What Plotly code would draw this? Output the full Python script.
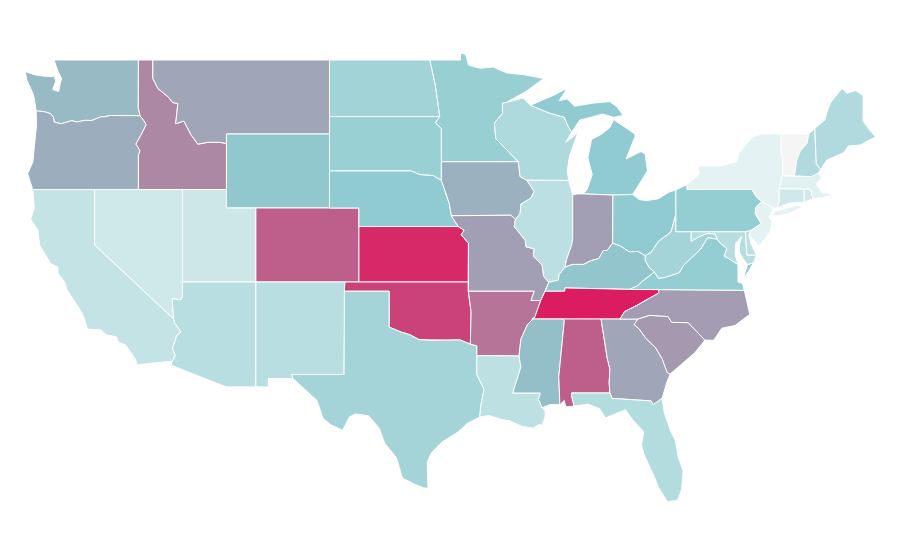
import plotly.graph_objects as go
from plotly.colors import sample_colorscale

# geo subplots need a topojson download that is not possible here,
# so the state shapes are simplified lon/lat outlines on plain axes
states = ["WA","OR","CA","ID","NV","MT","WY","UT","AZ","CO","NM","ND","SD","NE","KS","OK","TX",
          "MN","IA","MO","AR","LA","WI","IL","MI","IN","OH","KY","TN","MS","AL","GA","FL","SC","NC",
          "VA","WV","MD","DE","PA","NJ","NY","CT","RI","MA","VT","NH","ME"]
values = [46,50,20,63,15,53,41,16,24,77,24,33,36,40,96,87,32,
          37,49,55,70,22,28,23,40,55,40,42,100,44,77,53,26,57,56,
          38,32,25,22,38,7,7,15,15,8,0,27,27]

colorscale = [[0, "#f6f5f6"], [0.07, "#e4f2f3"], [0.4, "#8fcbd0"], [1, "#dc1c60"]]

outlines = {
"WA": [[(-122.76,49),(-117.03,49),(-117.04,46.43),(-116.92,45.99),(-118.98,46),(-119.3,45.93),(-119.6,45.92),(-120.2,45.73),(-120.65,45.74),(-121.2,45.65),(-121.55,45.72),(-122.3,45.55),(-122.76,45.65),(-122.8,45.9),(-123,46.1),(-123.4,46.2),(-123.98,46.25),(-124.05,46.7),(-124.1,46.9),(-124.2,47.2),(-124.6,47.9),(-124.73,48.38),(-124.1,48.2),(-123.5,48.13),(-122.9,48.1),(-122.75,48.15),(-122.65,47.85),(-122.85,47.4),(-122.45,47.3),(-122.35,47.7),(-122.25,48),(-122.5,48.4)]],
"OR": [[(-123.98,46.25),(-123.4,46.2),(-123,46.1),(-122.8,45.9),(-122.76,45.65),(-122.3,45.55),(-121.55,45.72),(-121.2,45.65),(-120.65,45.74),(-120.2,45.73),(-119.6,45.92),(-119.3,45.93),(-118.98,46),(-116.92,45.99),(-116.68,45.75),(-116.5,45.5),(-116.85,44.95),(-117.2,44.45),(-117.03,44.25),(-116.93,44.1),(-117.03,43.83),(-117.03,42),(-124.21,42),(-124.4,42.5),(-124.55,42.85),(-124.2,43.5),(-124.1,44.5),(-123.95,45.5)]],
"CA": [[(-124.21,42),(-120,42),(-120,39),(-114.63,35),(-114.57,34.8),(-114.14,34.3),(-114.43,34.1),(-114.72,33.4),(-114.52,33.03),(-114.72,32.72),(-117.12,32.53),(-117.25,32.85),(-117.9,33.6),(-118.4,33.75),(-118.5,34.03),(-119.2,34.15),(-119.6,34.42),(-120.5,34.45),(-120.65,34.9),(-120.9,35.4),(-121.9,36.6),(-122,36.95),(-122.5,37.5),(-122.5,37.8),(-123,38),(-123.75,39),(-123.85,39.8),(-124.35,40.4),(-124.1,41)]],
"ID": [[(-117.03,49),(-116.05,49),(-116.05,48),(-115.7,47.45),(-115,47),(-114.7,46.7),(-114.35,46.65),(-114.5,45.55),(-113.95,45.7),(-113.45,44.95),(-113,44.45),(-112.3,44.55),(-111.5,44.55),(-111.05,44.48),(-111.05,42),(-117.03,42),(-117.03,43.83),(-116.93,44.1),(-117.03,44.25),(-117.2,44.45),(-116.85,44.95),(-116.5,45.5),(-116.68,45.75),(-116.92,45.99),(-117.04,46.43)]],
"NV": [[(-120,42),(-114.04,42),(-114.04,36.2),(-114.15,36.03),(-114.74,36.1),(-114.63,35),(-120,39)]],
"MT": [[(-116.05,49),(-104.05,49),(-104.05,45),(-111.05,45),(-111.05,44.48),(-111.5,44.55),(-112.3,44.55),(-113,44.45),(-113.45,44.95),(-113.95,45.7),(-114.5,45.55),(-114.35,46.65),(-114.7,46.7),(-115,47),(-115.7,47.45),(-116.05,48)]],
"WY": [[(-111.05,45),(-104.05,45),(-104.05,41),(-111.05,41)]],
"UT": [[(-114.04,42),(-111.05,42),(-111.05,41),(-109.05,41),(-109.05,37),(-114.04,37)]],
"AZ": [[(-114.04,37),(-109.05,37),(-109.05,31.33),(-111.07,31.33),(-114.81,32.5),(-114.72,32.72),(-114.52,33.03),(-114.72,33.4),(-114.43,34.1),(-114.14,34.3),(-114.57,34.8),(-114.63,35),(-114.74,36.1),(-114.15,36.03),(-114.04,36.2)]],
"CO": [[(-109.05,41),(-102.05,41),(-102.05,37),(-109.05,37)]],
"NM": [[(-109.05,37),(-103,37),(-103.06,32),(-106.62,32),(-106.53,31.78),(-108.2,31.78),(-108.2,31.33),(-109.05,31.33)]],
"ND": [[(-104.05,49),(-97.23,49),(-96.85,47.6),(-96.56,45.94),(-104.05,45.94)]],
"SD": [[(-104.05,45.94),(-96.56,45.94),(-96.85,45.6),(-96.45,45.3),(-96.45,43.5),(-96.45,42.49),(-97,42.75),(-97.9,42.8),(-98.5,43),(-104.05,43)]],
"NE": [[(-104.05,43),(-98.5,43),(-97.9,42.8),(-97,42.75),(-96.45,42.49),(-96.1,41.7),(-95.9,41.2),(-95.77,40.58),(-95.31,40),(-102.05,40),(-102.05,41),(-104.05,41)]],
"KS": [[(-102.05,40),(-95.31,40),(-94.9,39.8),(-95.1,39.55),(-94.61,39.1),(-94.62,37),(-102.05,37)]],
"OK": [[(-103,37),(-94.62,37),(-94.62,36.5),(-94.43,35.4),(-94.48,33.64),(-95.2,33.87),(-96,33.85),(-96.6,33.85),(-97.2,33.85),(-97.95,33.88),(-98.6,34.15),(-99.2,34.3),(-100,34.56),(-100,36.5),(-103.04,36.5)]],
"TX": [[(-103.04,36.5),(-100,36.5),(-100,34.56),(-99.2,34.3),(-98.6,34.15),(-97.95,33.88),(-97.2,33.85),(-96.6,33.85),(-96,33.85),(-95.2,33.87),(-94.48,33.64),(-94.04,33.55),(-94.04,33.02),(-94.04,32),(-93.55,31.2),(-93.75,30.4),(-93.85,29.7),(-94.7,29.35),(-95.3,28.9),(-96.4,28.35),(-97.1,27.8),(-97.4,27.3),(-97.4,26.7),(-97.35,25.85),(-97.65,25.87),(-98.25,26.07),(-99.1,26.4),(-99.5,27.5),(-100.3,28.28),(-100.67,29.1),(-101.4,29.77),(-102.3,29.87),(-102.7,29.7),(-103.15,28.98),(-104,29.3),(-104.5,29.65),(-104.9,30.6),(-106.53,31.78),(-106.62,32),(-103.06,32)]],
"MN": [[(-97.23,49),(-95.15,49),(-95.15,49.38),(-94.8,49.3),(-94.6,48.72),(-93.8,48.55),(-92.95,48.62),(-92,48.3),(-90.8,48.2),(-89.5,48),(-90.7,47.3),(-92.05,46.7),(-92.3,46.66),(-92.3,46.1),(-92.85,45.6),(-92.75,44.75),(-91.22,43.5),(-96.45,43.5),(-96.45,45.3),(-96.85,45.6),(-96.56,45.94),(-96.85,47.6)]],
"IA": [[(-96.45,43.5),(-91.22,43.5),(-91.1,42.7),(-90.64,42.5),(-90.15,41.9),(-90.35,41.55),(-91.05,41.2),(-91.1,40.7),(-91.42,40.38),(-91.73,40.61),(-95.77,40.58),(-95.9,41.2),(-96.1,41.7),(-96.45,42.49)]],
"MO": [[(-95.77,40.58),(-91.73,40.61),(-91.42,40.38),(-91.5,40),(-90.75,39.25),(-90.7,38.9),(-90.15,38.8),(-90.2,38.4),(-89.6,37.9),(-89.5,37.3),(-89.15,36.98),(-89.4,36.5),(-89.7,36),(-90.37,36),(-90.15,36.5),(-94.62,36.5),(-94.62,37),(-94.61,39.1),(-95.1,39.55),(-94.9,39.8),(-95.31,40)]],
"AR": [[(-94.62,36.5),(-90.15,36.5),(-90.37,36),(-89.7,36),(-90.1,35.1),(-90.6,34.7),(-91.05,33.9),(-91.17,33),(-94.04,33.02),(-94.04,33.55),(-94.48,33.64),(-94.43,35.4)]],
"LA": [[(-94.04,33.02),(-91.17,33),(-91.05,32.4),(-91.6,31),(-89.73,31),(-89.85,30.65),(-89.6,30.2),(-89.4,30),(-89.4,29.75),(-89.6,29.25),(-89.05,29.1),(-89.8,29.3),(-90.2,29.1),(-91,29.2),(-91.8,29.5),(-92.3,29.55),(-93.2,29.78),(-93.85,29.7),(-93.75,30.4),(-93.55,31.2),(-94.04,32)]],
"WI": [[(-92.3,46.66),(-92.05,46.7),(-90.9,46.95),(-90.4,46.55),(-89.1,46.13),(-88.1,45.9),(-87.8,45.35),(-87.6,45.1),(-88,44.55),(-87.4,44.9),(-87.1,45.25),(-87.5,44.4),(-87.75,43.8),(-87.9,43),(-87.8,42.49),(-90.64,42.5),(-91.1,42.7),(-91.22,43.5),(-92.75,44.75),(-92.85,45.6),(-92.3,46.1)]],
"IL": [[(-90.64,42.5),(-87.8,42.49),(-87.53,41.72),(-87.53,39.35),(-87.6,39),(-87.95,38.2),(-88.05,37.8),(-88.45,37.4),(-88.5,37.1),(-89.15,36.98),(-89.5,37.3),(-89.6,37.9),(-90.2,38.4),(-90.15,38.8),(-90.7,38.9),(-90.75,39.25),(-91.5,40),(-91.42,40.38),(-91.1,40.7),(-91.05,41.2),(-90.35,41.55),(-90.15,41.9)]],
"MI": [[(-86.82,41.76),(-84.8,41.7),(-83.45,41.73),(-83.1,42.2),(-82.45,43),(-82.6,43.9),(-82.9,44.05),(-83.9,43.65),(-83.3,44.85),(-83.3,45),(-84.75,45.78),(-85,45.35),(-85.55,45),(-86.25,44.7),(-86.5,43.7),(-86.2,42.8),(-86.55,42)],
       [(-90.4,46.55),(-89.1,46.13),(-88.1,45.9),(-87.8,45.35),(-87.6,45.1),(-87.05,45.75),(-86.3,45.9),(-85.5,46.08),(-84.75,45.9),(-84.1,46),(-84.5,46.45),(-85,46.75),(-86.1,46.67),(-87.4,46.5),(-87.9,46.9),(-88.45,46.8),(-87.9,47.47),(-88.8,47.1),(-89.6,46.83)]],
"IN": [[(-87.53,41.72),(-87.2,41.76),(-86.82,41.76),(-84.8,41.7),(-84.81,39.1),(-85.2,38.7),(-85.45,38.7),(-85.75,38.27),(-86.3,38.15),(-86.8,37.95),(-87.55,37.95),(-88.05,37.8),(-87.95,38.2),(-87.6,39),(-87.53,39.35)]],
"OH": [[(-84.8,41.7),(-83.45,41.73),(-83,41.45),(-82.5,41.4),(-81.7,41.5),(-81,41.85),(-80.52,41.98),(-80.52,40.64),(-80.65,40.3),(-80.85,39.7),(-81.7,39.2),(-81.95,38.9),(-82.2,38.6),(-82.6,38.42),(-83.1,38.65),(-83.7,38.63),(-84.3,38.95),(-84.81,39.1)]],
"KY": [[(-89.4,36.5),(-88.07,36.5),(-88.05,36.68),(-83.68,36.6),(-83.1,36.8),(-82.85,37),(-81.97,37.54),(-82.3,37.75),(-82.6,38.17),(-82.6,38.42),(-83.1,38.65),(-83.7,38.63),(-84.3,38.95),(-84.81,39.1),(-85.2,38.7),(-85.45,38.7),(-85.75,38.27),(-86.3,38.15),(-86.8,37.95),(-87.55,37.95),(-88.05,37.8),(-88.45,37.4),(-88.5,37.1),(-89.15,36.98)]],
"TN": [[(-89.7,36),(-89.4,36.5),(-88.07,36.5),(-88.05,36.68),(-83.68,36.6),(-81.68,36.59),(-81.7,36.4),(-81.9,36.3),(-82.6,36),(-83.2,35.72),(-84,35.4),(-84.32,34.99),(-90.3,35),(-90.1,35.1)]],
"MS": [[(-90.3,35),(-88.2,35),(-88.1,34.9),(-88.47,31.9),(-88.4,30.37),(-89.1,30.37),(-89.6,30.2),(-89.85,30.65),(-89.73,31),(-91.6,31),(-91.05,32.4),(-91.17,33),(-91.05,33.9),(-90.6,34.7),(-90.1,35.1)]],
"AL": [[(-88.2,35),(-85.6,35),(-85.18,32.87),(-85,32.3),(-85.05,31.55),(-85,31),(-87.6,31),(-87.6,30.85),(-87.45,30.35),(-87.5,30.28),(-88,30.25),(-88.1,30.6),(-88.4,30.37),(-88.47,31.9),(-88.1,34.9)]],
"GA": [[(-85.6,35),(-84.32,34.99),(-83.1,35),(-83.35,34.7),(-83,34.45),(-82.55,33.95),(-81.9,33.45),(-81.45,32.85),(-81.1,32.1),(-80.9,32.03),(-81.15,31.55),(-81.45,30.72),(-82.05,30.36),(-82.2,30.57),(-84.86,30.71),(-85,31),(-85.05,31.55),(-85,32.3),(-85.18,32.87)]],
"FL": [[(-87.6,31),(-85,31),(-84.86,30.71),(-82.2,30.57),(-82.05,30.36),(-81.45,30.72),(-81.3,29.9),(-80.9,29),(-80.55,28.4),(-80.35,27.5),(-80.03,26.8),(-80.12,25.8),(-80.4,25.2),(-81.1,25.13),(-81.7,25.9),(-82,26.5),(-82.7,27.7),(-82.85,28.2),(-82.7,28.9),(-83.4,29.5),(-83.95,30.1),(-84.4,29.95),(-85.3,29.65),(-85.7,30.15),(-86.5,30.4),(-87.5,30.28),(-87.45,30.35),(-87.6,30.85)]],
"SC": [[(-83.1,35),(-82.3,35.2),(-81.05,35.13),(-80.8,34.82),(-79.68,34.8),(-78.55,33.86),(-79.2,33.2),(-79.9,32.7),(-80.9,32.03),(-81.1,32.1),(-81.45,32.85),(-81.9,33.45),(-82.55,33.95),(-83,34.45),(-83.35,34.7)]],
"NC": [[(-84.32,34.99),(-84,35.4),(-83.2,35.72),(-82.6,36),(-81.9,36.3),(-81.7,36.4),(-81.68,36.59),(-75.87,36.55),(-75.5,35.25),(-76.5,34.65),(-77.4,34.5),(-77.95,33.85),(-78.55,33.86),(-79.68,34.8),(-80.8,34.82),(-81.05,35.13),(-82.3,35.2),(-83.1,35)]],
"VA": [[(-83.68,36.6),(-81.68,36.59),(-75.87,36.55),(-76,36.93),(-76.3,37),(-76.3,37.55),(-76.3,37.95),(-77,38.3),(-77.25,38.4),(-77.05,38.8),(-77.5,39.1),(-77.72,39.32),(-78.35,39.4),(-78.85,38.77),(-79.3,38.42),(-80,37.9),(-80.3,37.5),(-81.25,37.25),(-81.7,37.2),(-81.97,37.54),(-82.85,37),(-83.1,36.8)],
       [(-75.95,37.15),(-75.6,37.55),(-75.25,38.03),(-75.65,37.95)]],
"WV": [[(-80.52,40.64),(-80.52,39.72),(-79.48,39.72),(-79.48,39.2),(-78.95,39.45),(-78.4,39.62),(-77.85,39.6),(-77.72,39.32),(-78.35,39.4),(-78.85,38.77),(-79.3,38.42),(-80,37.9),(-80.3,37.5),(-81.25,37.25),(-81.7,37.2),(-81.97,37.54),(-82.3,37.75),(-82.6,38.17),(-82.6,38.42),(-82.2,38.6),(-81.95,38.9),(-81.7,39.2),(-80.85,39.7),(-80.65,40.3)]],
"MD": [[(-79.48,39.72),(-75.79,39.72),(-75.7,38.46),(-75.05,38.45),(-75.25,38.03),(-75.65,37.95),(-75.9,38.2),(-76.2,38.6),(-76.2,39),(-76.05,39.45),(-76.45,39.1),(-76.5,38.5),(-76.35,38.1),(-76.3,37.95),(-77,38.3),(-77.25,38.4),(-77.05,38.8),(-77.5,39.1),(-77.72,39.32),(-77.85,39.6),(-78.4,39.62),(-78.95,39.45),(-79.48,39.2)]],
"DE": [[(-75.79,39.72),(-75.4,39.8),(-75.55,39.5),(-75.4,39.05),(-75.05,38.45),(-75.7,38.46)]],
"PA": [[(-80.52,41.98),(-79.76,42.27),(-79.76,42),(-75.35,42),(-75.05,41.6),(-74.7,41.36),(-75.1,41),(-75.13,40.7),(-74.72,40.15),(-75.4,39.8),(-75.79,39.72),(-80.52,39.72)]],
"NJ": [[(-74.7,41.36),(-73.92,41),(-74.02,40.7),(-74.25,40.5),(-73.98,40.3),(-74.1,39.75),(-74.4,39.4),(-74.9,38.93),(-75.15,39.2),(-75.55,39.5),(-75.4,39.8),(-74.72,40.15),(-75.13,40.7),(-75.1,41)]],
"NY": [[(-79.76,42.27),(-78.9,42.85),(-79.05,43.27),(-77.5,43.27),(-76.4,43.5),(-76.2,44),(-75.3,44.85),(-74.7,45),(-73.35,45),(-73.4,44),(-73.25,43.6),(-73.28,42.75),(-73.5,42.05),(-73.5,41.3),(-73.65,41),(-73.92,41),(-74.7,41.36),(-75.05,41.6),(-75.35,42),(-79.76,42)],
       [(-74.03,40.6),(-73.75,40.85),(-73,40.97),(-72.3,41.15),(-71.87,41.07),(-72.8,40.72),(-73.6,40.58)]],
"CT": [[(-73.5,42.05),(-71.8,42.02),(-71.8,41.32),(-72.9,41.25),(-73.65,41),(-73.5,41.3)]],
"RI": [[(-71.8,42.02),(-71.38,42.02),(-71.2,41.5),(-71.8,41.32)]],
"MA": [[(-73.5,42.05),(-73.28,42.75),(-71.3,42.7),(-70.85,42.88),(-70.6,42.65),(-71,42.3),(-70.55,41.8),(-70,41.8),(-70,42.05),(-69.95,41.7),(-70.65,41.55),(-71.2,41.5),(-71.38,42.02),(-71.8,42.02)]],
"VT": [[(-73.35,45),(-71.5,45),(-71.6,44.5),(-72.05,44.1),(-72.3,43.6),(-72.46,42.73),(-73.28,42.75),(-73.25,43.6),(-73.4,44)]],
"NH": [[(-71.5,45),(-71.08,45.3),(-70.98,43.4),(-70.7,43.07),(-70.85,42.88),(-71.3,42.7),(-72.46,42.73),(-72.3,43.6),(-72.05,44.1),(-71.6,44.5)]],
"ME": [[(-71.08,45.3),(-70.4,45.75),(-70.25,46.2),(-70,46.7),(-69.23,47.46),(-68.9,47.2),(-68.3,47.35),(-67.8,47.07),(-67.8,45.7),(-67.45,45.3),(-66.95,44.85),(-68,44.4),(-68.8,44.35),(-69.1,44),(-69.8,43.75),(-70.25,43.6),(-70.7,43.07),(-70.98,43.4)]],
}

fig = go.Figure()
for state, value in zip(states, values):
    xs, ys = [], []
    for part in outlines[state]:
        ring = part + part[:1]
        xs += [p[0] for p in ring] + [None]
        ys += [p[1] for p in ring] + [None]
    color = sample_colorscale(colorscale, value / 100)[0]
    fig.add_trace(go.Scatter(x=xs, y=ys, mode="lines", fill="toself", fillcolor=color,
                             line=dict(color="white", width=1), name=state,
                             hovertemplate=state + ": " + str(value) + "<extra></extra>"))

# ranges allow for the 8px page margin around the fixed size plot
fig.update_layout(
    width=900, height=560,
    margin=dict(l=0, r=0, t=0, b=0),
    paper_bgcolor="white",
    plot_bgcolor="white",
    showlegend=False,
    xaxis=dict(range=[-125.89, -64.75], visible=False, fixedrange=True),
    yaxis=dict(range=[21.54, 51.81], visible=False, fixedrange=True),
)
fig.write_html("out.html")
